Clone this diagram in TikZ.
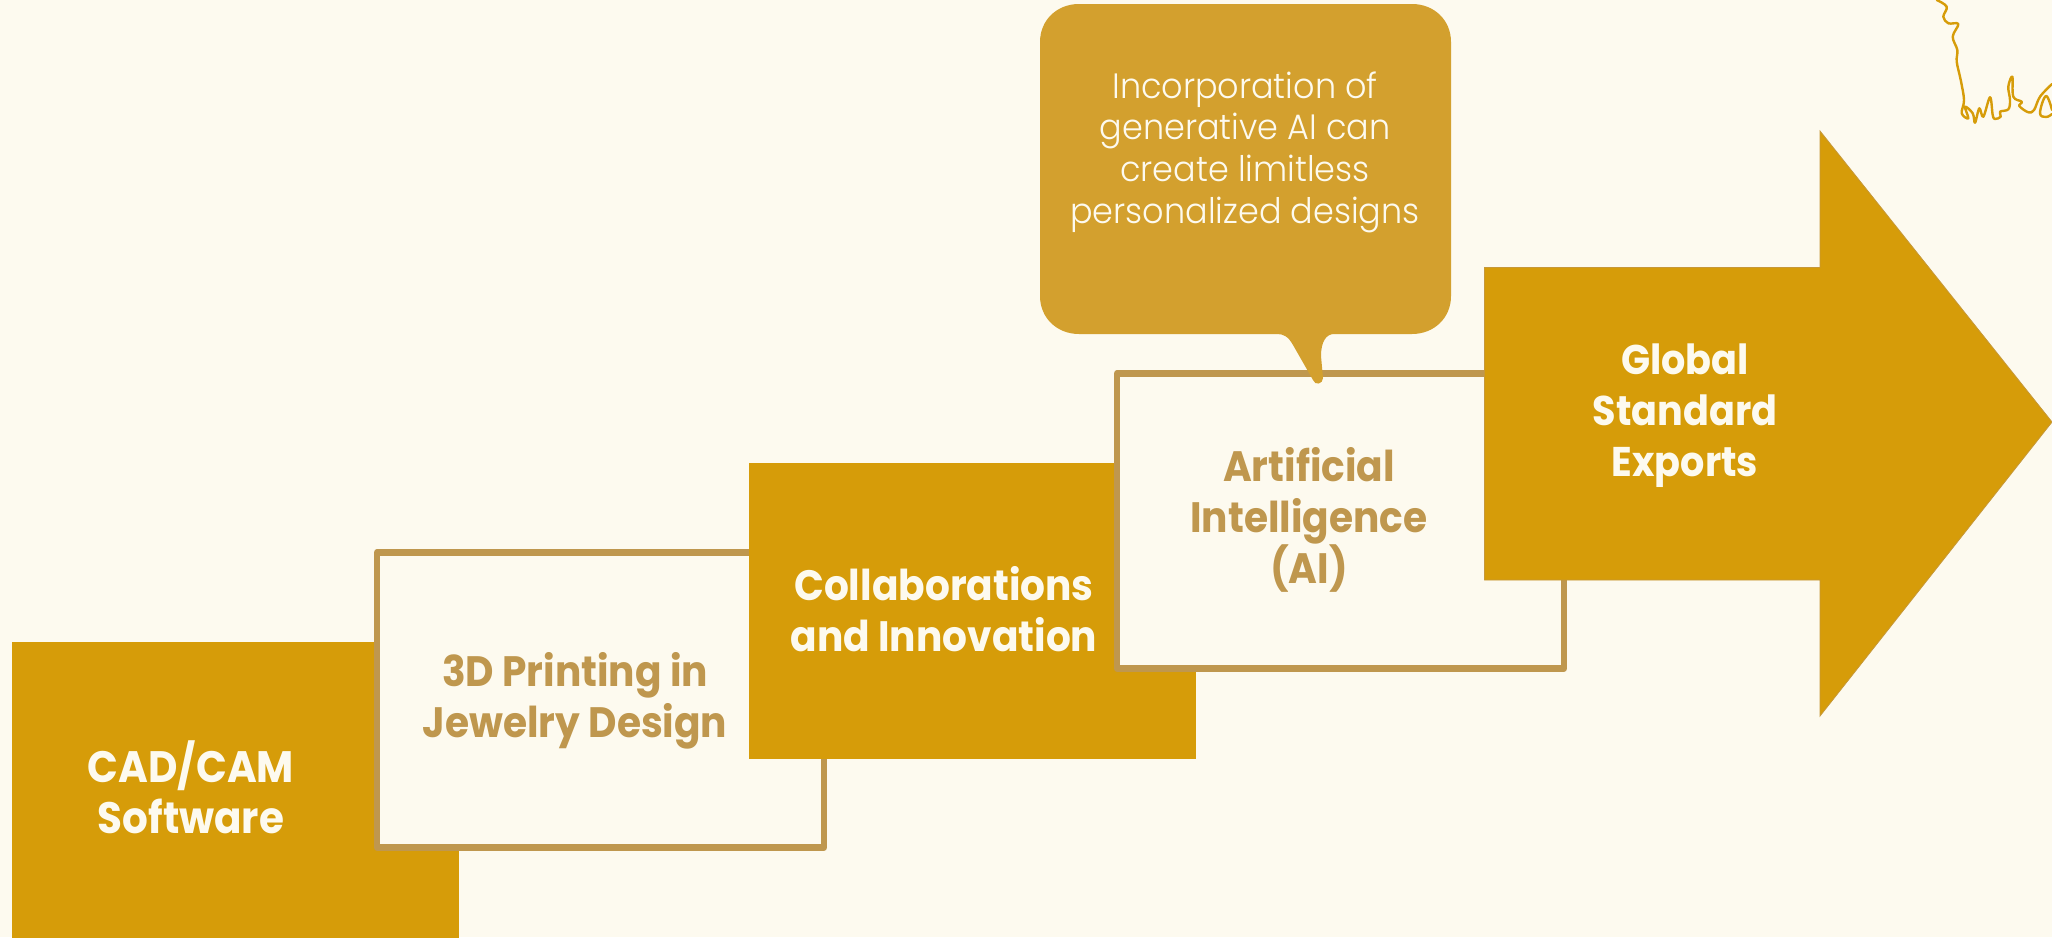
\documentclass[tikz,border=0pt]{standalone}
\usepackage{fontspec}
\setmainfont{Poppins}
\newfontfamily\headf[UprightFont=* Bold,FakeStretch=0.92]{Poppins}
\newfontfamily\lightf[UprightFont=* Light,FakeStretch=0.95]{Poppins}
\definecolor{bgc}{HTML}{FDFAEF}
\definecolor{gold}{HTML}{D69C09}
\definecolor{tan}{HTML}{BF974E}
\definecolor{bubble}{HTML}{D3A02E}
\definecolor{txtw}{HTML}{FDFAEF}
\tikzset{
  x=1pt,y=-1pt,
  goldbox/.style={fill=gold,draw=none},
  tanbox/.style={fill=bgc,draw=tan,line width=6.5pt,line join=round},
  head/.style={align=center,inner sep=0pt,font=\headf\fontsize{#1}{51}\selectfont},
  whitehead/.style={head=#1,text=txtw},
  tanhead/.style={head=#1,text=tan},
  note/.style={align=center,inner sep=0pt,text=txtw,font=\lightf\fontsize{35.2}{41.7}\selectfont},
}
\begin{document}
\begin{tikzpicture}
\useasboundingbox (0,0) rectangle (2052,937);
\fill[bgc] (0,0) rectangle (2052,937);
% squiggle
\draw[gold,line width=2.4pt,line cap=round,line join=round] plot[smooth,tension=0.6] coordinates {
(1936.7,0)(1946.7,6.7)(1943.3,16.7)(1948.3,23.3)(1958.3,24)(1952.7,36.7)(1957.3,50)(1956.7,61.7)(1960.7,80)(1964,100)(1961.7,113.3)(1968.3,118.3)(1965,106.7)(1972.7,113.3)(1975,122.7)(1979.3,108.3)(1983.3,116.7)(1990,97.3)(1992.7,115)(1995,119)(2000.7,116.7)(2000,111.7)(2008.3,109.3)(2010,100)(2008.3,86.7)(2012.3,76.7)(2013.3,96.7)(2021.7,101.7)(2019.3,106)(2028.3,112.3)(2034,110)(2040,96.7)(2052,84)};
\draw[gold,line width=2.4pt,line cap=round,line join=round] plot[smooth,tension=0.7] coordinates {(2052,114)(2046,117)(2040,113)(2046,96)(2052,110)};
% boxes
\path[goldbox] (12,641.5) rectangle (459,938);
\node[whitehead=44] (cad) at (191,787) {CAD/CAM\\Software};
\draw[tanbox] (377,552.5) rectangle (824,847.5);
\node[tanhead=42.5] (print) at (575,701) {3D Printing in\\Jewelry Design};
\path[goldbox] (749,462.5) rectangle (1196,758.5);
\node[whitehead=42.5] (collab) at (944,609) {Collaborations\\and Innovation};
\draw[tanbox] (1117,373.5) rectangle (1564,668.5);
\node[tanhead=42.5] (ai) at (1309,520) {Artificial\\Intelligence\\(AI)};
\draw[fill=gold,draw=tan!70!gold,line width=0.8pt] (1484.5,267.5) -- (1820,267.5) -- (1820,131) -- (2052,422) -- (1820,716) -- (1820,580) -- (1484.5,580) -- cycle;
\node[whitehead=41.5] (glob) at (1685,416) {Global\\Standard\\Exports};
% bubble
\fill[bubble] (1079,4) -- (1412,4) .. controls (1434,4) and (1451,20) .. (1451,42) -- (1451,296) .. controls (1451,318) and (1434,334) .. (1412,334) -- (1334,334) .. controls (1326,334) and (1321,342) .. (1321,356) -- (1323,378) .. controls (1323,384) and (1315,386) .. (1313,380) -- (1293,345) .. controls (1288,336) and (1283,334) .. (1277,334) -- (1079,334) .. controls (1057,334) and (1040,318) .. (1040,296) -- (1040,42) .. controls (1040,20) and (1057,4) .. (1079,4) -- cycle;
\node[note] (bub) at (1245,152) {Incorporation of\\generative AI can\\create limitless\\personalized designs};
\end{tikzpicture}
\end{document}
